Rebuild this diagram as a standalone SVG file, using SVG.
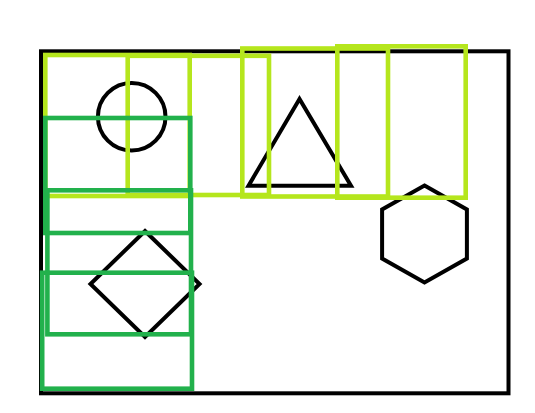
<svg xmlns="http://www.w3.org/2000/svg" width="535" height="413" viewBox="0 0 535 413">
<style>
.blk{fill:none;stroke:#000;stroke-width:4}
.lg{fill:none;stroke:#b5e61d;stroke-width:4.6}
.dg{fill:none;stroke:#22b14c;stroke-width:4.6}
</style>
<rect width="535" height="413" fill="#fff"/>
<g id="frame"><rect class="blk" x="41" y="51.3" width="467.5" height="342"/></g>
<g id="circle"><circle class="blk" cx="131.7" cy="116.7" r="33.8"/></g>
<g id="triangle"><polygon class="blk" points="299.5,99 248.5,185.7 351,185.7"/></g>
<g id="hexagon"><polygon class="blk" points="424.5,185.5 466.9,209.5 466.9,258.5 424.5,282.5 382.1,258.5 382.1,209.5"/></g>
<g id="diamond"><polygon class="blk" points="145,231 199.5,284 145,337 90.5,284"/></g>
<g id="light-boxes">
<rect class="lg" x="45.3" y="55" width="144.4" height="141"/>
<rect class="lg" x="127.7" y="55.8" width="141.3" height="139.2"/>
<rect class="lg" x="242.3" y="48.5" width="145.7" height="148"/>
<rect class="lg" x="337.3" y="46.3" width="128.4" height="151.4"/>
</g>
<g id="green-boxes">
<rect class="dg" x="45.3" y="118" width="145" height="115"/>
<rect class="dg" x="47.4" y="190.3" width="143.6" height="144"/>
<rect class="dg" x="42.2" y="272.7" width="149.8" height="116"/>
</g>
<g id="connectors"/>
</svg>
